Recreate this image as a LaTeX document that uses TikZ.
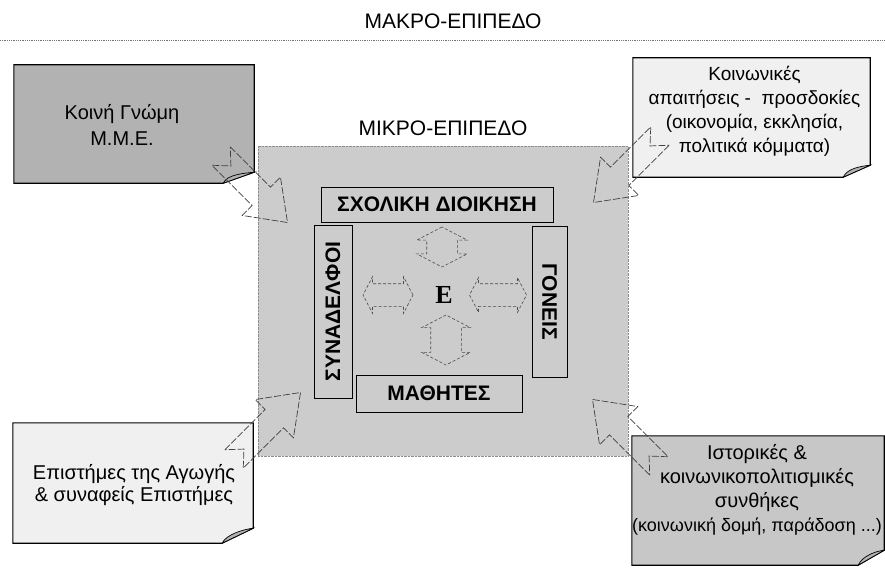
\documentclass[tikz,border=0pt]{standalone}
\usepackage{fontspec}
\setmainfont{Liberation Sans}
\newfontfamily\epsfont{Liberation Serif}
\usepackage{tikz}
\usetikzlibrary{shapes.arrows,positioning}
\usepackage{xcolor}
\definecolor{darknote}{gray}{0.70}
\definecolor{greynote}{gray}{0.78}
\definecolor{lightnote}{gray}{0.94}
\definecolor{mikrofill}{gray}{0.80}
\tikzset{
  level title/.style={inner sep=0pt,font=\fontsize{21}{24}\selectfont},
  level rule/.style={densely dotted,draw=black!55,line width=0.8pt},
  note/.style 2 args={inner sep=0pt,minimum width=#1,minimum height=#2},
  note text/.style={align=center,inner sep=0pt},
  mikro/.style={fill=mikrofill,draw=black!45,densely dotted,minimum width=370pt,minimum height=310pt},
  role/.style={draw,line width=0.9pt,inner sep=0pt,font=\bfseries\fontsize{21}{24}\selectfont},
  teacher/.style={inner sep=0pt,font=\epsfont\bfseries\fontsize{26}{28}\selectfont},
  twoway/.style 2 args={double arrow,draw=black!70,densely dashed,line width=0.6pt,
    inner xsep=0pt,inner ysep=#1,double arrow head extend=#2,double arrow tip angle=125},
  influence/.pic={
    \draw[draw=black!75,dash pattern=on 7pt off 2pt,line width=0.7pt]
      (-48,-13) -- (9,-13) -- (9,-27) -- (46,0) -- (9,27) -- (9,13) -- (-48,13) -- (-34,0) -- cycle;
  }
}

\begin{document}
\begin{tikzpicture}[x=1pt,y=-1pt]
\useasboundingbox (0,0) rectangle (885,575);

% macro level
\node[level title] (makro) at (453,21) {ΜΑΚΡΟ-ΕΠΙΠΕΔΟ};
\draw[level rule] (0,40) -- (885,40);

\path (134,124) node[note={240pt}{118pt}] (gnomi) {}
      (751.5,117.5) node[note={237pt}{119pt}] (apaitiseis) {}
      (133,483) node[note={240pt}{120pt}] (epistimes) {}
      (758,500.5) node[note={252pt}{129pt}] (synthikes) {};

% notes with folded corner
\foreach \n/\c/\fx/\fy in {gnomi/darknote/31pt/11pt,apaitiseis/lightnote/27pt/12pt,
                           epistimes/lightnote/31pt/15pt,synthikes/greynote/26pt/15pt}{
  \filldraw[fill=\c,draw=black,line width=1.1pt]
    (\n.north west) -- (\n.north east) -- ([yshift=\fy]\n.south east)
    -- ([xshift=-\fx]\n.south east) -- (\n.south west) -- cycle;
  \filldraw[fill=black!30,draw=black,line width=0.7pt]
    ([xshift=-\fx]\n.south east) .. controls +(4pt,9pt) and +(-9pt,-1pt) .. ([yshift=\fy]\n.south east) -- cycle;
}

\node[note text,font=\fontsize{20}{26}\selectfont] (gnomi txt) at ([xshift=-12pt,yshift=-1pt]gnomi.center)
  {Κοινή Γνώμη\\Μ.Μ.Ε.};
\node[note text,font=\fontsize{19}{24}\selectfont] (apaitiseis txt) at ([xshift=3pt,yshift=6pt]apaitiseis.center)
  {Κοινωνικές\\απαιτήσεις -\ \ προσδοκίες\\(οικονομία, εκκλησία,\\πολιτικά κόμματα)};
\node[note text,font=\fontsize{20}{22}\selectfont] (epistimes txt) at ([xshift=1pt,yshift=-2pt]epistimes.center)
  {Επιστήμες της Αγωγής\\\& συναφείς Επιστήμες};
\node[note text,font=\fontsize{20}{24}\selectfont] (synthikes txt) at ([xshift=-1pt,yshift=11pt]synthikes.center)
  {Ιστορικές \&\\κοινωνικοπολιτισμικές\\συνθήκες\\{\fontsize{18}{22}\selectfont(κοινωνική δομή, παράδοση ...)}};

% micro level
\node[mikro] (mikro) at (443,301) {};
\node[level title,above=10pt of mikro] (mikro title) {ΜΙΚΡΟ-ΕΠΙΠΕΔΟ};

\node[role,minimum width=232pt,minimum height=35pt] (dioikisi) at (437,204.5) {ΣΧΟΛΙΚΗ ΔΙΟΙΚΗΣΗ};
\node[role,rotate=90,minimum width=173pt,minimum height=38pt] (synadelfoi) at (333,311.5) {ΣΥΝΑΔΕΛΦΟΙ};
\node[role,rotate=-90,minimum width=151pt,minimum height=35pt] (goneis) at (549.5,301.5) {ΓΟΝΕΙΣ};
\node[role,minimum width=166pt,minimum height=37pt] (mathites) at (439,393.5) {ΜΑΘΗΤΕΣ};

\node[teacher] (ekp) at (444,295) {Ε};
\node[twoway={15pt}{10pt},rotate=90,minimum height=40pt] (to dioikisi) at (442,247) {};
\node[twoway={15pt}{9pt},rotate=90,minimum height=50pt] (to mathites) at (446,340) {};
\node[twoway={11pt}{7pt},minimum height=50pt] (to synadelfoi) at (388,295) {};
\node[twoway={11pt}{6pt},minimum height=57pt] (to goneis) at (498,295) {};

% macro influences
\pic[rotate=-45] (from gnomi) at (255,190) {influence};
\pic[rotate=-135] (from apaitiseis) at (626,170) {influence};
\pic[rotate=45] (from epistimes) at (268,425) {influence};
\pic[rotate=135] (from synthikes) at (625,432) {influence};

\end{tikzpicture}
\end{document}
